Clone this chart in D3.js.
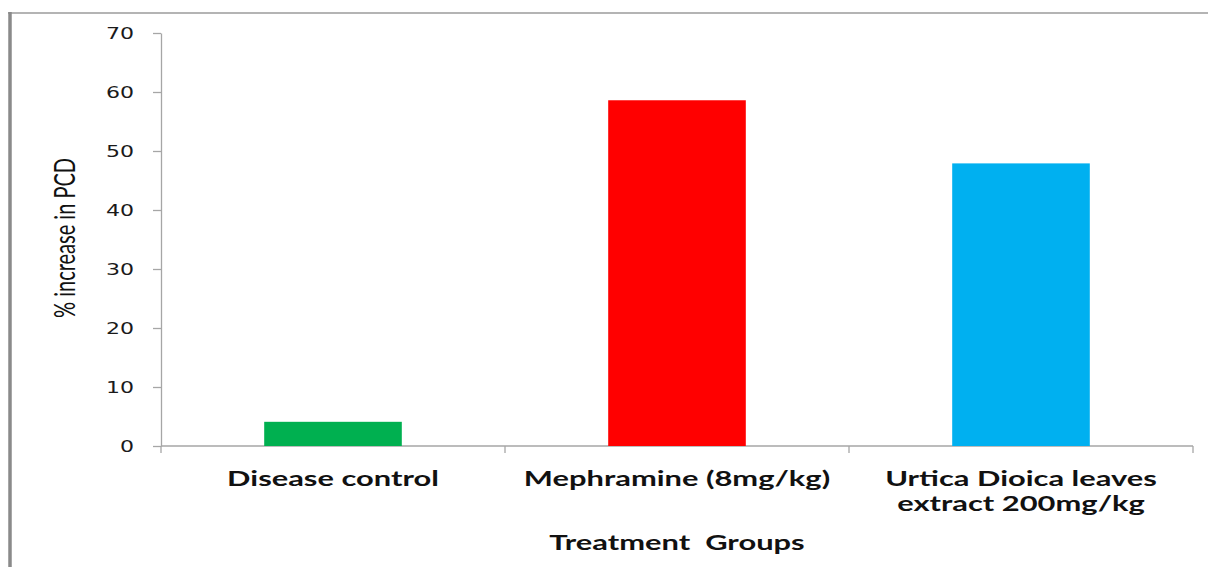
<!DOCTYPE html>
<html>
<head>
<meta charset="utf-8">
<script src="https://cdn.jsdelivr.net/npm/d3@7"></script>
<style>
  html, body { margin: 0; padding: 0; background: #fff; }
  svg { display: block; }
</style>
</head>
<body>
<svg id="chart" width="1208" height="567"></svg>
<script>
// Treatment groups and the % increase in PCD for each
const categories = ["Disease control", "Mephramine (8mg/kg)", "Urtica Dioica leaves extract 200mg/kg"];
const categoryLines = [["Disease control"], ["Mephramine (8mg/kg)"], ["Urtica Dioica leaves", "extract 200mg/kg"]];
const pcdIncrease = [4.1, 58.6, 47.9];
const barColors = ["#00b050", "#ff0000", "#00b0f0"];
const yTicks = [0, 10, 20, 30, 40, 50, 60, 70];
const yTitle = "% increase in PCD";
const xTitle = "Treatment  Groups";

const svg = d3.select("#chart");
const W = 1208, H = 567;
const margin = { left: 161, right: 15, top: 33, bottom: 121 };
const plotW = W - margin.left - margin.right;
const plotH = H - margin.top - margin.bottom;
const stretch = 1.47; // horizontally widened lettering

// frame lines around the figure
svg.append("line").attr("x1", 8).attr("x2", W).attr("y1", 13).attr("y2", 13)
  .attr("stroke", "#b4b4b4").attr("stroke-width", 2);
svg.append("line").attr("x1", 10).attr("x2", 10).attr("y1", 12).attr("y2", H)
  .attr("stroke", "#8a8a8a").attr("stroke-width", 3.5);

const g = svg.append("g").attr("transform", `translate(${margin.left},${margin.top})`);

const x = d3.scaleBand().domain(categories).range([0, plotW])
  .paddingInner(0.6).paddingOuter(0.3);
const y = d3.scaleLinear().domain([0, 70]).range([plotH, 0]);

// y axis
const yAxis = g.append("g").call(d3.axisLeft(y).tickValues(yTicks).tickSize(8).tickSizeOuter(0));
yAxis.select(".domain").attr("stroke", "#a6a6a6").attr("stroke-width", 1.3);
yAxis.selectAll(".tick line").attr("stroke", "#a6a6a6").attr("stroke-width", 1.3);
yAxis.selectAll(".tick text")
  .attr("x", 0).attr("dy", "0.36em")
  .attr("transform", `translate(-27,0) scale(${stretch},1)`)
  .attr("text-anchor", "end")
  .attr("font-family", "DejaVu Sans, Verdana, sans-serif")
  .attr("font-size", 15)
  .attr("fill", "#1a1a1a");

// x axis baseline with boundary ticks between groups
const step = x.step();
const x0 = x(categories[0]) - step * x.paddingOuter();
const boundaries = d3.range(categories.length + 1).map(i => x0 + i * step);
g.append("line").attr("x1", 0).attr("x2", plotW).attr("y1", plotH).attr("y2", plotH)
  .attr("stroke", "#a6a6a6").attr("stroke-width", 1.3);
g.selectAll(".xtick").data(boundaries).join("line")
  .attr("class", "xtick")
  .attr("x1", d => d).attr("x2", d => d)
  .attr("y1", plotH).attr("y2", plotH + 7)
  .attr("stroke", "#a6a6a6").attr("stroke-width", 1.3);

// bars
g.selectAll(".bar").data(categories).join("rect")
  .attr("class", "bar")
  .attr("x", d => x(d))
  .attr("width", x.bandwidth())
  .attr("y", (d, i) => y(pcdIncrease[i]))
  .attr("height", (d, i) => plotH - y(pcdIncrease[i]))
  .attr("fill", (d, i) => barColors[i]);

// category labels
categories.forEach((c, i) => {
  const cx = x(c) + x.bandwidth() / 2;
  categoryLines[i].forEach((line, j) => {
    g.append("text")
      .attr("transform", `translate(${cx},${plotH + 40 + j * 25}) scale(${stretch},1)`)
      .attr("text-anchor", "middle")
      .attr("font-family", "Lato, sans-serif")
      .attr("font-weight", 700)
      .attr("font-size", 21)
      .attr("fill", "#111")
      .text(line);
  });
});

// axis titles
g.append("text")
  .attr("transform", `translate(${plotW / 2},${plotH + 104}) scale(${stretch},1)`)
  .attr("text-anchor", "middle")
  .attr("font-family", "Lato, sans-serif")
  .attr("font-weight", 700)
  .attr("font-size", 21)
  .attr("fill", "#111")
  .attr("xml:space", "preserve")
  .style("white-space", "pre")
  .text(xTitle);

svg.append("text")
  .attr("transform", `translate(75,238) scale(${stretch},1) rotate(-90)`)
  .attr("text-anchor", "middle")
  .attr("font-family", "Lato, sans-serif")
  .attr("font-size", 20)
  .attr("fill", "#111")
  .text(yTitle);
</script>
</body>
</html>
